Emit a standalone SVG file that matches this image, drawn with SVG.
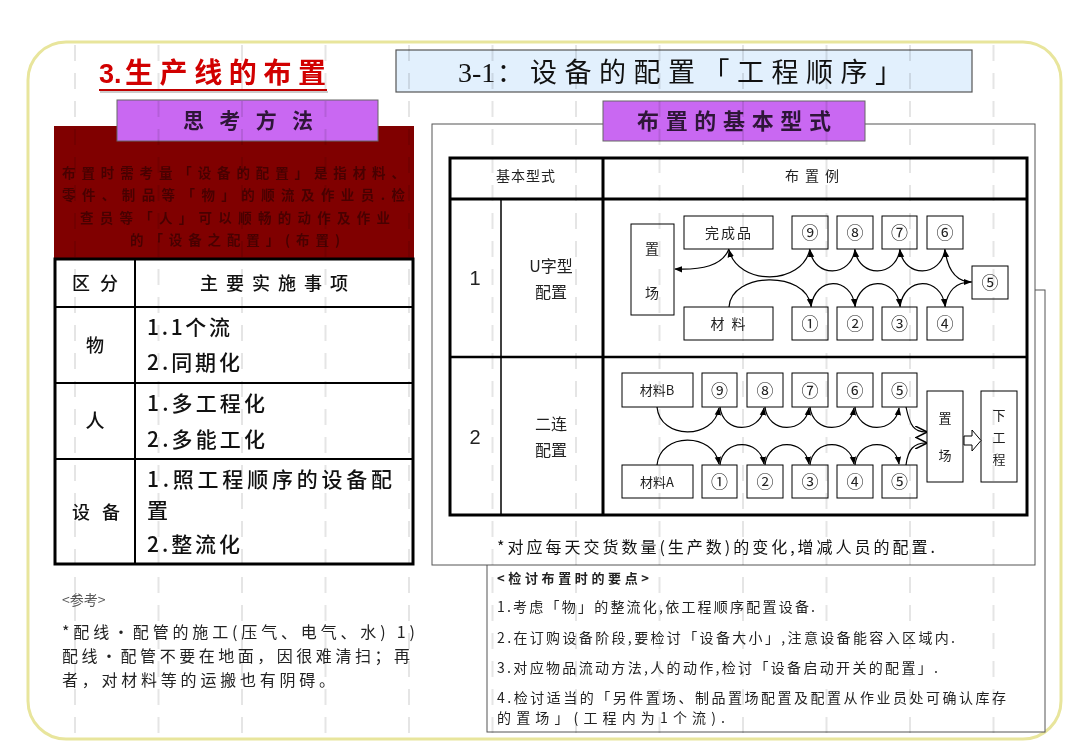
<svg xmlns="http://www.w3.org/2000/svg" width="1080" height="747" viewBox="0 0 1080 747">
<defs>
<style>
.cn{font-family:"Noto Sans CJK SC","Noto Sans",sans-serif}
.sf{font-family:"Liberation Serif","Noto Sans CJK SC",serif}
.sa{font-family:"Liberation Sans","Noto Sans CJK SC",sans-serif}
.bx{fill:#fff;stroke:#000;stroke-width:1}
.arc{fill:none;stroke:#000;stroke-width:1.2;marker-end:url(#ah)}
.arco{fill:none;stroke:#000;stroke-width:1.2;marker-end:url(#ao)}
.num{font-family:"Noto Sans CJK SC","DejaVu Sans",sans-serif;font-size:17px;text-anchor:middle;fill:#222}
.lbl{font-size:14px;text-anchor:middle;fill:#222}
.grid line{stroke:#cfcfcf;stroke-width:2;stroke-dasharray:16 12}
</style>
<marker id="ah" viewBox="0 0 10 10" refX="9" refY="5" markerWidth="8" markerHeight="8" markerUnits="userSpaceOnUse" orient="auto"><path d="M0,1 L10,5 L0,9 z" fill="#000"/></marker>
<marker id="ao" viewBox="0 0 10 10" refX="9" refY="5" markerWidth="12" markerHeight="12" markerUnits="userSpaceOnUse" orient="auto"><path d="M0,0 L10,5 L0,10" fill="none" stroke="#000" stroke-width="1.2"/></marker>
</defs>
<rect width="1080" height="747" fill="#fff"/>
<rect x="28" y="42" width="1033" height="697" rx="38" ry="38" fill="#fff" stroke="#e8e59c" stroke-width="3"/>

<g id="title-left">
<text x="99" y="83" fill="#d10000" font-family="Liberation Sans, sans-serif" font-weight="bold" font-size="27">3.</text>
<text x="125" y="83" class="cn" fill="#d10000" font-weight="bold" font-size="28" textLength="201" lengthAdjust="spacing">生产线的布置</text>
<line x1="99" y1="90" x2="327" y2="90" stroke="#c00000" stroke-width="2"/>
<line x1="100" y1="92" x2="328" y2="92" stroke="#999" stroke-width="1"/>
</g>

<g id="title-right">
<rect x="396" y="50" width="576" height="42" fill="#e2f0fd" stroke="#555" stroke-width="1.2"/>
<text x="458" y="82" class="sf" font-size="28" fill="#111">3-1</text>
<text x="497" y="82" class="cn" font-size="26" fill="#111">：</text>
<text x="530" y="82" class="cn" font-size="27" fill="#111" textLength="372" lengthAdjust="spacing">设备的配置「工程顺序」</text>
</g>

<g id="thinking-body">
<rect x="54" y="126" width="360" height="134" fill="#800000"/>
<g class="cn" font-size="13.5" fill="#480000" font-weight="bold">
<text x="62" y="178" textLength="343" lengthAdjust="spacing">布置时需考量「设备的配置」是指材料、</text>
<text x="62" y="200" textLength="343" lengthAdjust="spacing">零件、制品等「物」的顺流及作业员.检</text>
<text x="80" y="223" textLength="310" lengthAdjust="spacing">查员等「人」可以顺畅的动作及作业</text>
<text x="130" y="245" textLength="210" lengthAdjust="spacing">的「设备之配置」(布置)</text>
</g>
</g>

<g id="thinking-header">
<rect x="117" y="100" width="261" height="41" fill="#c968f2" stroke="#666" stroke-width="1"/>
<text x="183" y="128" class="cn" font-size="21" font-weight="bold" fill="#2e1638" textLength="130" lengthAdjust="spacing">思考方法</text>
</g>

<g id="left-table">
<rect x="55" y="259" width="358" height="305" fill="#fff" stroke="#000" stroke-width="3"/>
<line x1="135" y1="259" x2="135" y2="564" stroke="#000" stroke-width="2"/>
<line x1="55" y1="307" x2="413" y2="307" stroke="#000" stroke-width="2"/>
<line x1="55" y1="383" x2="413" y2="383" stroke="#000" stroke-width="2"/>
<line x1="55" y1="459" x2="413" y2="459" stroke="#000" stroke-width="2"/>
<g class="cn" fill="#111" font-weight="500">
<text x="72" y="290" font-size="18" textLength="46" lengthAdjust="spacing">区分</text>
<text x="200" y="290" font-size="18" textLength="148" lengthAdjust="spacing">主要实施事项</text>
<text x="95" y="352" font-size="18" text-anchor="middle">物</text>
<text x="95" y="428" font-size="19" text-anchor="middle">人</text>
<text x="72" y="519" font-size="18" textLength="48" lengthAdjust="spacing">设备</text>
<text x="147" y="335" font-size="21" textLength="83" lengthAdjust="spacing">1.1个流</text>
<text x="147" y="370" font-size="21" textLength="93" lengthAdjust="spacing">2.同期化</text>
<text x="147" y="411" font-size="21" textLength="118" lengthAdjust="spacing">1.多工程化</text>
<text x="147" y="447" font-size="21" textLength="118" lengthAdjust="spacing">2.多能工化</text>
<text x="147" y="487" font-size="21" textLength="245" lengthAdjust="spacing">1.照工程顺序的设备配</text>
<text x="147" y="518" font-size="21">置</text>
<text x="147" y="552" font-size="21" textLength="93" lengthAdjust="spacing">2.整流化</text>
</g>
</g>

<g id="reference-note" class="cn" fill="#222">
<text x="62" y="605" font-size="14" fill="#555">&lt;参考&gt;</text>
<text x="62" y="638" font-size="16" textLength="353" lengthAdjust="spacing">*配线·配管的施工(压气、电气、水)  1)</text>
<text x="62" y="662" font-size="16" textLength="348" lengthAdjust="spacing">配线·配管不要在地面，因很难清扫；再</text>
<text x="62" y="686" font-size="16" textLength="273" lengthAdjust="spacing">者，对材料等的运搬也有阴碍。</text>
</g>

<g id="notes-box">
<rect x="487" y="290" width="558" height="442" fill="#fff" stroke="#555" stroke-width="1"/>
<g class="cn" fill="#222" font-size="14">
<text x="497" y="583" font-size="13" font-weight="bold" textLength="152" lengthAdjust="spacing">&lt;检讨布置时的要点&gt;</text>
<text x="497" y="612" textLength="318" lengthAdjust="spacing">1.考虑「物」的整流化,依工程顺序配置设备.</text>
<text x="497" y="643" textLength="458" lengthAdjust="spacing">2.在订购设备阶段,要检讨「设备大小」,注意设备能容入区域内.</text>
<text x="497" y="673" textLength="441" lengthAdjust="spacing">3.对应物品流动方法,人的动作,检讨「设备启动开关的配置」.</text>
<text x="497" y="703" textLength="509" lengthAdjust="spacing">4.检讨适当的「另件置场、制品置场配置及配置从作业员处可确认库存</text>
<text x="497" y="723" textLength="228" lengthAdjust="spacing">的置场」(工程内为1个流).</text>
</g>
</g>

<g id="layout-frame">
<rect x="432" y="124" width="603" height="441" fill="#fff" stroke="#555" stroke-width="1"/>
<text x="497" y="553" class="cn" font-size="16" fill="#111" textLength="438" lengthAdjust="spacing">*对应每天交货数量(生产数)的变化,增减人员的配置.</text>
</g>

<g id="layout-header">
<rect x="603" y="101" width="262" height="40" fill="#c968f2" stroke="#666" stroke-width="1"/>
<text x="637" y="129" class="cn" font-size="22" font-weight="bold" fill="#2e1638" textLength="194" lengthAdjust="spacing">布置的基本型式</text>
</g>

<g id="layout-table">
<rect x="450" y="158" width="577" height="357" fill="#fff" stroke="#000" stroke-width="3"/>
<line x1="450" y1="199" x2="1027" y2="199" stroke="#000" stroke-width="3"/>
<line x1="603" y1="158" x2="603" y2="515" stroke="#000" stroke-width="3"/>
<line x1="450" y1="357" x2="1027" y2="357" stroke="#000" stroke-width="2.5"/>
<line x1="501" y1="199" x2="501" y2="515" stroke="#000" stroke-width="1.5"/>
<g class="cn" fill="#222">
<text x="526" y="181" font-size="14" text-anchor="middle" letter-spacing="1">基本型式</text>
<text x="815" y="181" font-size="14" text-anchor="middle" letter-spacing="6">布置例</text>
<text x="551" y="272" font-size="16" text-anchor="middle">U字型</text>
<text x="551" y="298" font-size="16" text-anchor="middle">配置</text>
<text x="551" y="430" font-size="16" text-anchor="middle">二连</text>
<text x="551" y="456" font-size="16" text-anchor="middle">配置</text>
</g>
<text x="475" y="285" class="sa" font-size="20" text-anchor="middle" fill="#222">1</text>
<text x="475" y="444" class="sa" font-size="20" text-anchor="middle" fill="#222">2</text>
</g>

<g id="u-layout">
<g id="u-storage"><rect class="bx" x="631" y="224" width="43" height="91"/><text class="cn lbl" x="652" y="254">置</text><text class="cn lbl" x="652" y="298">场</text></g>
<g id="u-finished"><rect class="bx" x="684" y="216" width="89" height="33"/><text class="cn lbl" x="729" y="238" letter-spacing="2">完成品</text></g>
<g id="u-material"><rect class="bx" x="684" y="307" width="89" height="33"/><text class="cn lbl" x="729" y="329" letter-spacing="2">材 料</text></g>
<g id="u-9"><rect class="bx" x="792" y="216" width="36" height="33"/><text class="num" x="810" y="239">⑨</text></g>
<g id="u-8"><rect class="bx" x="837" y="216" width="36" height="33"/><text class="num" x="855" y="239">⑧</text></g>
<g id="u-7"><rect class="bx" x="882" y="216" width="35" height="33"/><text class="num" x="899.5" y="239">⑦</text></g>
<g id="u-6"><rect class="bx" x="927" y="216" width="36" height="33"/><text class="num" x="945" y="239">⑥</text></g>
<g id="u-5"><rect class="bx" x="972" y="266" width="36" height="33"/><text class="num" x="990" y="289">⑤</text></g>
<g id="u-1"><rect class="bx" x="792" y="307" width="36" height="33"/><text class="num" x="810" y="330">①</text></g>
<g id="u-2"><rect class="bx" x="837" y="307" width="36" height="33"/><text class="num" x="855" y="330">②</text></g>
<g id="u-3"><rect class="bx" x="882" y="307" width="35" height="33"/><text class="num" x="899.5" y="330">③</text></g>
<g id="u-4"><rect class="bx" x="927" y="307" width="36" height="33"/><text class="num" x="945" y="330">④</text></g>
</g>

<g id="double-layout">
<g id="d-matB"><rect class="bx" x="622" y="373" width="71" height="34"/><text class="cn" x="657" y="395" font-size="13" text-anchor="middle" fill="#222">材料B</text></g>
<g id="d-B9"><rect class="bx" x="702" y="373" width="35" height="34"/><text class="num" x="719.5" y="397">⑨</text></g>
<g id="d-B8"><rect class="bx" x="747" y="373" width="36" height="34"/><text class="num" x="765" y="397">⑧</text></g>
<g id="d-B7"><rect class="bx" x="792" y="373" width="36" height="34"/><text class="num" x="810" y="397">⑦</text></g>
<g id="d-B6"><rect class="bx" x="837" y="373" width="36" height="34"/><text class="num" x="855" y="397">⑥</text></g>
<g id="d-B5"><rect class="bx" x="882" y="373" width="35" height="34"/><text class="num" x="899.5" y="397">⑤</text></g>
<g id="d-matA"><rect class="bx" x="622" y="465" width="71" height="33"/><text class="cn" x="657" y="487" font-size="13" text-anchor="middle" fill="#222">材料A</text></g>
<g id="d-A1"><rect class="bx" x="702" y="465" width="35" height="33"/><text class="num" x="719.5" y="488">①</text></g>
<g id="d-A2"><rect class="bx" x="747" y="465" width="36" height="33"/><text class="num" x="765" y="488">②</text></g>
<g id="d-A3"><rect class="bx" x="792" y="465" width="36" height="33"/><text class="num" x="810" y="488">③</text></g>
<g id="d-A4"><rect class="bx" x="837" y="465" width="36" height="33"/><text class="num" x="855" y="488">④</text></g>
<g id="d-A5"><rect class="bx" x="882" y="465" width="35" height="33"/><text class="num" x="899.5" y="488">⑤</text></g>
<g id="d-storage"><rect class="bx" x="927" y="391" width="36" height="91"/><text class="cn" x="945" y="423" font-size="13" text-anchor="middle" fill="#222">置</text><text class="cn" x="945" y="460" font-size="13" text-anchor="middle" fill="#222">场</text></g>
<g id="d-next"><rect class="bx" x="981" y="391" width="36" height="91"/><text class="cn" x="999" y="420" font-size="13" text-anchor="middle" fill="#222">下</text><text class="cn" x="999" y="442" font-size="13" text-anchor="middle" fill="#222">工</text><text class="cn" x="999" y="464" font-size="13" text-anchor="middle" fill="#222">程</text></g>
</g>

<g id="connectors">
<path class="arc" d="M729,307 C731,272 806,270 811,306"/>
<path class="arc" d="M811,307 C815,276 851,276 855,306"/>
<path class="arc" d="M855,307 C859,276 896,276 900,306"/>
<path class="arc" d="M900,307 C904,276 941,276 945,306"/>
<path class="arc" d="M945,307 C948,288 958,282 971,282"/>
<path class="arc" d="M972,282 C958,282 948,272 945,250"/>
<path class="arc" d="M945,249 C941,278 904,278 900,250"/>
<path class="arc" d="M900,249 C896,278 859,278 855,250"/>
<path class="arc" d="M855,249 C851,278 814,278 810,250"/>
<path class="arc" d="M810,249 C802,286 738,286 729,250"/>
<path class="arc" d="M729,249 C722,266 702,270 675,269"/>

<path class="arc" d="M657,407 C660,440 714,440 719,408"/>
<path class="arc" d="M720,407 C723,434 760,434 764,408"/>
<path class="arc" d="M765,407 C768,434 805,434 809,408"/>
<path class="arc" d="M810,407 C813,434 850,434 854,408"/>
<path class="arc" d="M855,407 C858,434 895,434 899,408"/>
<path class="arco" d="M906,407 C910,426 914,432 926,432"/>

<path class="arc" d="M657,465 C660,432 714,432 719,464"/>
<path class="arc" d="M720,465 C723,438 760,438 764,464"/>
<path class="arc" d="M765,465 C768,438 805,438 809,464"/>
<path class="arc" d="M810,465 C813,438 850,438 854,464"/>
<path class="arc" d="M855,465 C858,438 895,438 899,464"/>
<path class="arco" d="M906,465 C908,449 914,443 926,443"/>

<path d="M964,436 L972,436 L972,430 L981,440.5 L972,451 L972,445 L964,445 Z" fill="#fff" stroke="#000" stroke-width="1"/>
</g>

<g class="grid" style="mix-blend-mode:multiply" opacity="0.55">
<line x1="75" y1="45" x2="75" y2="737"/>
<line x1="158.5" y1="45" x2="158.5" y2="737"/>
<line x1="242" y1="45" x2="242" y2="737"/>
<line x1="325.5" y1="45" x2="325.5" y2="737"/>
<line x1="409" y1="45" x2="409" y2="737"/>
<line x1="492.5" y1="45" x2="492.5" y2="737"/>
<line x1="576" y1="45" x2="576" y2="737"/>
<line x1="659.5" y1="45" x2="659.5" y2="737"/>
<line x1="743" y1="45" x2="743" y2="737"/>
<line x1="826.5" y1="45" x2="826.5" y2="737"/>
<line x1="910" y1="45" x2="910" y2="737"/>
<line x1="993.5" y1="45" x2="993.5" y2="737"/>
</g>
</svg>
